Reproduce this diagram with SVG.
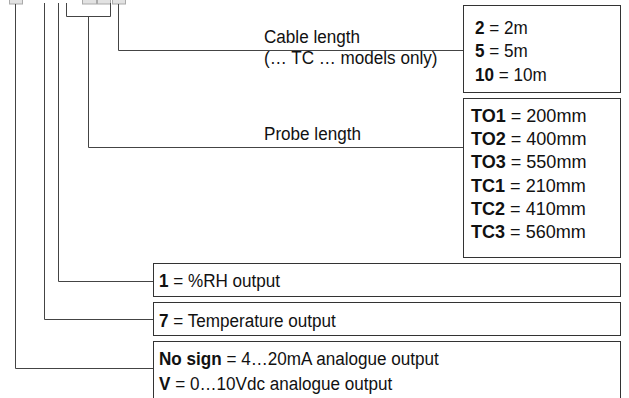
<svg xmlns="http://www.w3.org/2000/svg" width="629" height="398" viewBox="0 0 629 398">
<style>
text{font-family:"Liberation Sans",Arial,sans-serif;font-size:19px;fill:#111}
.b{font-weight:bold}
.box{fill:#fff;stroke:#333;stroke-width:1}
.ph{fill:#e2e2e2;stroke:#aaa;stroke-width:1}
.c{fill:none;stroke:#444;stroke-width:1}
</style>
<g id="code-placeholders">
<rect class="ph" x="9.5" y="-2" width="13" height="6"/>
<rect class="ph" x="82.5" y="-2" width="14" height="6"/>
<rect class="ph" x="97.5" y="-2" width="13" height="6"/>
<rect class="ph" x="112.5" y="-2" width="13" height="6"/>
</g>
<g id="connectors">
<polyline class="c" points="118.5,4 118.5,50.5 463.5,50.5"/>
<polyline class="c" points="66.5,3 66.5,16.5 110.5,16.5 110.5,3"/>
<polyline class="c" points="88.5,16.5 88.5,147.5 463.5,147.5"/>
<polyline class="c" points="58.5,3 58.5,281.5 153.5,281.5"/>
<polyline class="c" points="44.5,3 44.5,319.5 153.5,319.5"/>
<polyline class="c" points="15.5,4 15.5,368.5 153.5,368.5"/>
</g>
<g id="cable-label">
<text transform="translate(264,43) scale(0.9,1)">Cable length</text>
<text transform="translate(264,64) scale(0.9,1)">(… TC … models only)</text>
</g>
<g id="probe-label">
<text transform="translate(264,140) scale(0.9,1)">Probe length</text>
</g>
<g id="cable-box">
<rect class="box" x="463.5" y="5.5" width="157" height="87"/>
<text transform="translate(475,34) scale(0.9,1)"><tspan class="b">2</tspan> = 2m</text>
<text transform="translate(475,57) scale(0.9,1)"><tspan class="b">5</tspan> = 5m</text>
<text transform="translate(475,80.5) scale(0.9,1)"><tspan class="b">10</tspan> = 10m</text>
</g>
<g id="probe-box">
<rect class="box" x="463.5" y="98.5" width="157" height="159"/>
<text transform="translate(471,122) scale(0.95,1)"><tspan class="b">TO1</tspan> = 200mm</text>
<text transform="translate(471,145.2) scale(0.95,1)"><tspan class="b">TO2</tspan> = 400mm</text>
<text transform="translate(471,168.4) scale(0.95,1)"><tspan class="b">TO3</tspan> = 550mm</text>
<text transform="translate(471,191.6) scale(0.95,1)"><tspan class="b">TC1</tspan> = 210mm</text>
<text transform="translate(471,214.8) scale(0.95,1)"><tspan class="b">TC2</tspan> = 410mm</text>
<text transform="translate(471,238) scale(0.95,1)"><tspan class="b">TC3</tspan> = 560mm</text>
</g>
<g id="rh-box">
<rect class="box" x="153.5" y="263.5" width="467" height="33"/>
<text transform="translate(159,287) scale(0.9,1)"><tspan class="b">1</tspan> = %RH output</text>
</g>
<g id="temp-box">
<rect class="box" x="153.5" y="302.5" width="467" height="33"/>
<text transform="translate(159,327) scale(0.9,1)"><tspan class="b">7</tspan> = Temperature output</text>
</g>
<g id="signal-box">
<rect class="box" x="153.5" y="341.5" width="467" height="70"/>
<text transform="translate(159,365) scale(0.9,1)"><tspan class="b">No sign</tspan> = 4…20mA analogue output</text>
<text transform="translate(159,390) scale(0.9,1)"><tspan class="b">V</tspan> = 0…10Vdc analogue output</text>
</g>
</svg>
